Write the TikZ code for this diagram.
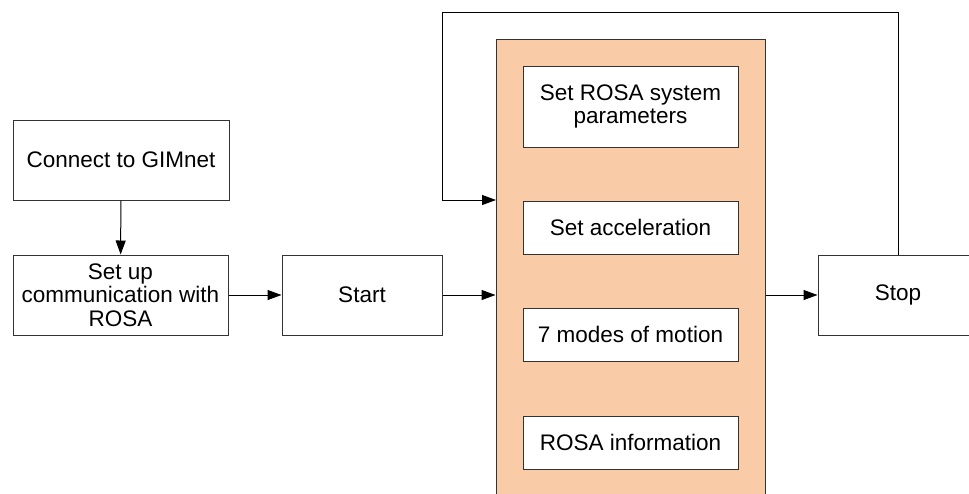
\documentclass[tikz,border=0pt]{standalone}
\usepackage{fontspec}
\setmainfont{Liberation Sans}
\usetikzlibrary{arrows.meta}
\definecolor{rosaorange}{RGB}{249,203,167}
\tikzset{
	box/.style={draw=black!80, fill=white, line width=0.5pt, align=center, inner sep=0pt,
		font=\fontsize{11.25}{11.8}\selectfont},
	flow/.style={-{Triangle[length=7pt,width=5pt]}, line width=0.5pt}
}

\begin{document}
\begin{tikzpicture}[x=0.5pt,y=-0.5pt]
		\clip (0,0) rectangle (969,493);
		\node[box, minimum width=108pt, minimum height=40pt] (gim) at (121,160) {Connect to GIMnet};
		\node[box, minimum width=107.5pt, minimum height=40pt] (setup) at (120.5,295) {Set up\\communication with\\ROSA};
		\node[box, minimum width=80pt, minimum height=40pt] (start) at (362,295) {Start};
		% blocco arancione
		\node[box, fill=rosaorange, minimum width=134.5pt, minimum height=250pt] (rosa) at (630.5,289) {};
		\node[box, minimum width=107.5pt, minimum height=40.5pt] (param) at (630.5,106.5) {Set ROSA system\\parameters};
		\node[box, minimum width=107.5pt, minimum height=26.5pt] (accel) at (630.5,227.5) {Set acceleration};
		\node[box, minimum width=107.5pt, minimum height=26.5pt] (modes) at (630.5,334.5) {7 modes of motion};
		\node[box, minimum width=107.5pt, minimum height=26.5pt] (info) at (630.5,442.5) {ROSA information};
		\node[box, minimum width=80pt, minimum height=40pt] (stop) at (898,295) {Stop};
		\draw[flow] (gim) -- (setup);
		\draw[flow] (setup) -- (start);
		\draw[flow] (start) -- (start -| rosa.west);
		\draw[flow] (stop -| rosa.east) -- (stop);
		% ritorno da Stop
		\coordinate (back) at (442,12);
		\coordinate (entry) at (496,200);
		\draw[flow] (stop.north) |- (back) |- (entry);
	\end{tikzpicture}
\end{document}
